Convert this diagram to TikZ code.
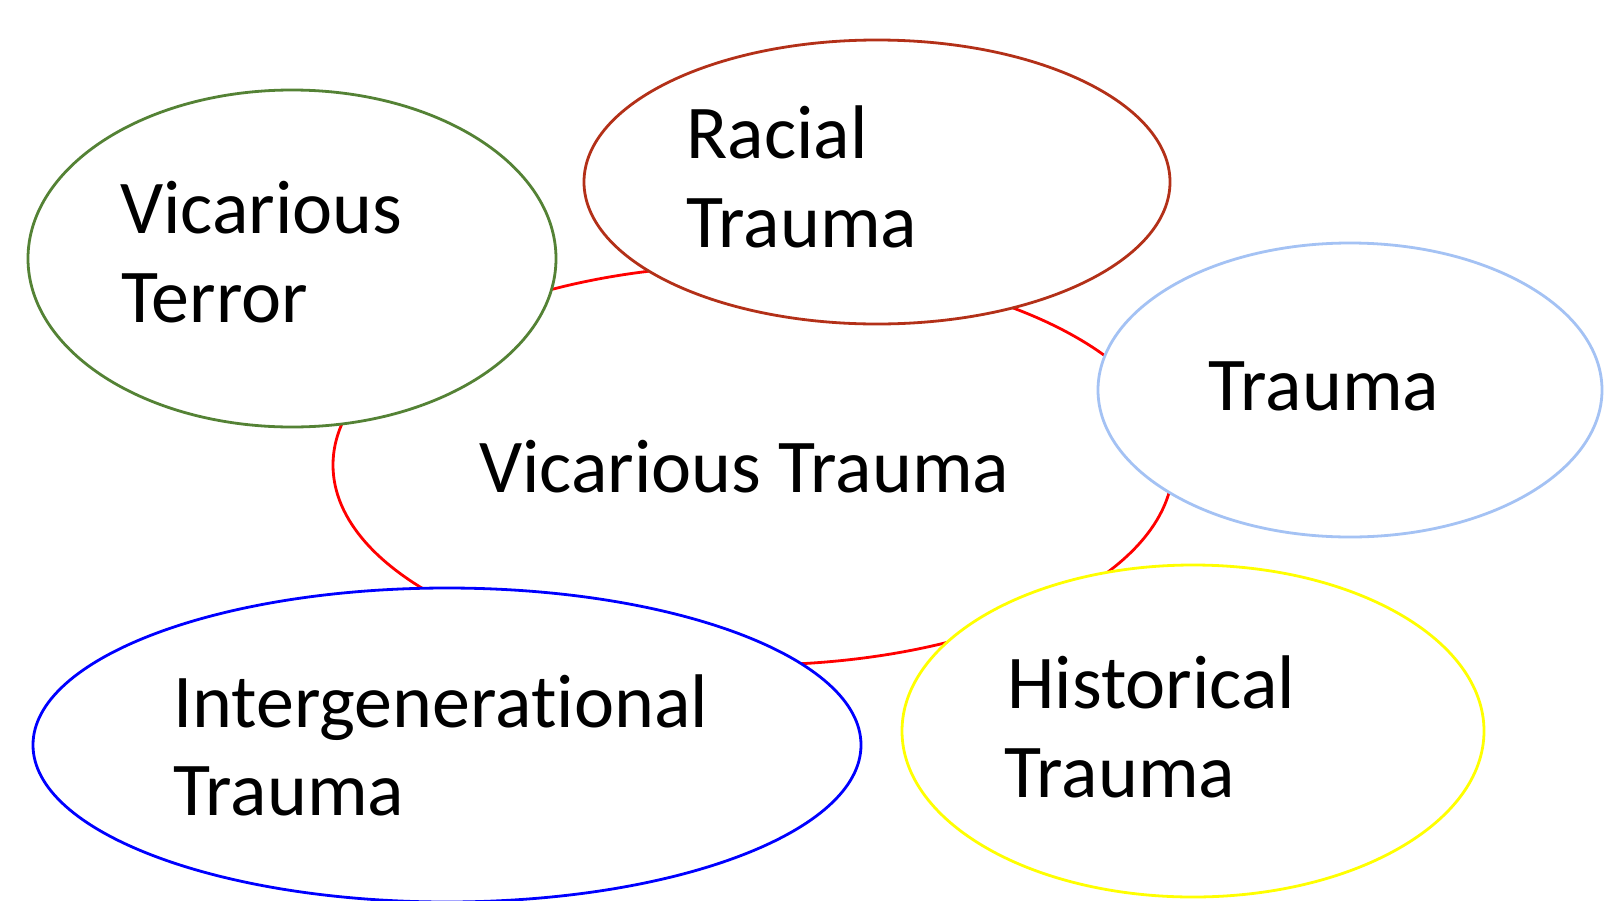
\documentclass[tikz,border=0pt]{standalone}
\usepackage{fontspec}
\setmainfont[RawFeature={-liga;-clig;-calt}]{Carlito}
\usetikzlibrary{shapes.geometric}
\definecolor{cgreen}{HTML}{548235}
\definecolor{cdarkred}{HTML}{B33018}
\definecolor{clightblue}{HTML}{A4C2F4}
\definecolor{cblue}{HTML}{0000FF}
\definecolor{cyellow}{HTML}{FFFF00}
\definecolor{cred}{HTML}{FF0000}
\begin{document}
\begin{tikzpicture}[x=0.5pt,y=-0.5pt,
  oval/.style={ellipse, draw, fill=white, line width=1.4pt, inner sep=0pt, outer sep=0pt},
  lbl/.style={anchor=base west, inner sep=0pt, font=\fontsize{38}{44}\selectfont}]
\useasboundingbox[fill=white] (0,0) rectangle (1606,900);
% central ellipse (drawn first, partly covered)
\node[oval, draw=cred, minimum width=420pt, minimum height=200pt] (vicarious) at (753,465) {};
% surrounding ellipses
\node[oval, draw=cgreen, minimum width=264pt, minimum height=168.5pt] (terror) at (292,258.5) {};
\node[oval, draw=cdarkred, minimum width=293pt, minimum height=142pt] (racial) at (877,182) {};
\node[oval, draw=clightblue, minimum width=252pt, minimum height=147pt] (trauma) at (1350,390) {};
\node[oval, draw=cblue, minimum width=414pt, minimum height=157pt] (intergen) at (447,745) {};
\node[oval, draw=cyellow, minimum width=291pt, minimum height=166pt] (historical) at (1193,731) {};
% labels
\node[lbl] (t1a) at (120,233) {Vicarious};
\node[lbl] (t1b) at (121,322) {Terror};
\node[lbl] (t2a) at (686,158) {Racial};
\node[lbl] (t2b) at (686,247) {Trauma};
\node[lbl] (t3) at (1208,410) {Trauma};
\node[lbl] (t4) at (479,492) {Vicarious Trauma};
\node[lbl] (t5a) at (173,727) {Intergenerat\kern0pt ional};
\node[lbl] (t5b) at (173,815) {Trauma};
\node[lbl] (t6a) at (1007,708) {Historical};
\node[lbl] (t6b) at (1004,797) {Trauma};
\end{tikzpicture}
\end{document}
